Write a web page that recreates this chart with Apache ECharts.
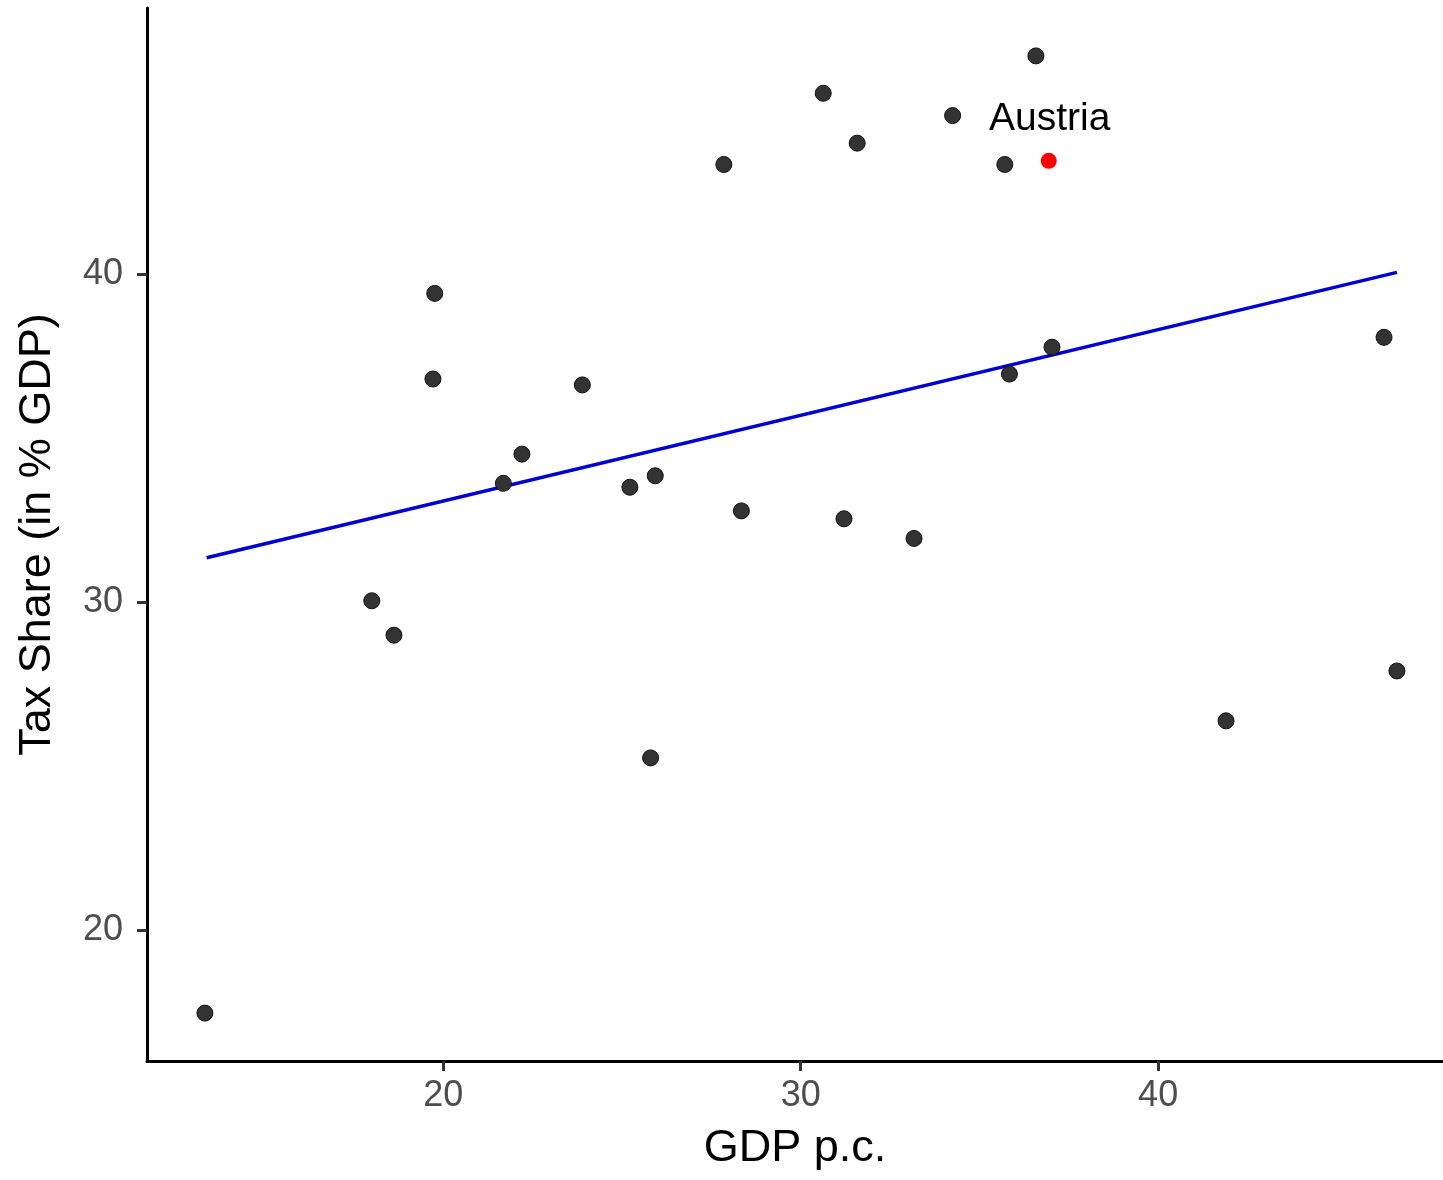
<!DOCTYPE html>
<html>
<head>
<meta charset="utf-8">
<title>Tax share vs GDP p.c.</title>
<script src="https://cdn.jsdelivr.net/npm/echarts@6/dist/echarts.min.js"></script>
<style>
  html, body { margin: 0; padding: 0; background: #ffffff; }
  #chart { width: 1443px; height: 1180px; }
</style>
</head>
<body>
<div id="chart"></div>
<script>
// values
var gdpPc = [13.33, 18.00, 18.62, 19.71, 19.76, 21.68, 22.20, 23.89, 25.22, 25.80, 25.93, 27.85, 28.34,
  30.63, 31.21, 31.58, 33.17, 34.25, 35.71, 35.84, 36.58, 37.03, 41.90, 46.32, 46.68];
var taxShare = [17.47, 30.04, 28.99, 36.80, 39.41, 33.62, 34.51, 36.62, 33.50, 25.25, 33.85, 43.34, 32.78,
  45.51, 32.54, 43.99, 31.94, 44.83, 43.34, 36.95, 46.65, 37.77, 26.38, 38.07, 27.90];

var austriaName = 'Austria';
var austriaGdp = 36.94;
var austriaTax = 43.45;

// fitted line, two ends
var fitX = [13.38, 46.68];
var fitY = [31.35, 40.05];

var xTicks = [20, 30, 40];
var yTicks = [20, 30, 40];

var font = "'Liberation Sans', Arial, sans-serif";

var points = gdpPc.map(function (x, i) { return [x, taxShare[i]]; });
var fitLine = fitX.map(function (x, i) { return [x, fitY[i]]; });

var chart = echarts.init(document.getElementById('chart'), null, { renderer: 'canvas' });

var axisCommon = {
  type: 'value',
  nameLocation: 'middle',
  nameTextStyle: { fontFamily: font, fontSize: 45, color: '#000000' },
  axisLine: { show: true, onZero: false, lineStyle: { color: '#000000', width: 3 } },
  splitLine: { show: false }
};

chart.setOption({
  backgroundColor: '#ffffff',
  animation: false,
  grid: { left: 147, right: 0, top: 8, bottom: 119 },
  xAxis: Object.assign({}, axisCommon, {
    name: 'GDP p.c.',
    nameGap: 65,
    min: 11.71,
    max: 47.97,
    axisTick: { show: true, length: 10, customValues: xTicks, lineStyle: { color: '#333333', width: 3 } },
    axisLabel: { customValues: xTicks, margin: 17, fontFamily: font, fontSize: 36, color: '#4d4d4d' }
  }),
  yAxis: Object.assign({}, axisCommon, {
    name: 'Tax Share (in % GDP)',
    nameGap: 87,
    nameRotate: 90,
    min: 16.01,
    max: 48.11,
    axisTick: { show: true, length: 10, customValues: yTicks, lineStyle: { color: '#333333', width: 3 } },
    axisLabel: { customValues: yTicks, margin: 24, fontFamily: font, fontSize: 36, color: '#4d4d4d' }
  }),
  series: [
    {
      type: 'line',
      data: fitLine,
      showSymbol: false,
      symbol: 'none',
      lineStyle: { color: '#0000d0', width: 3.5 },
      z: 2
    },
    {
      type: 'scatter',
      data: points,
      symbol: 'circle',
      symbolSize: 16,
      itemStyle: { color: '#333333', borderColor: '#111111', borderWidth: 1, opacity: 1 },
      z: 3
    },
    {
      type: 'scatter',
      data: [[austriaGdp, austriaTax]],
      symbol: 'circle',
      symbolSize: 16,
      itemStyle: { color: '#ff0000', opacity: 1 },
      label: {
        show: true,
        formatter: austriaName,
        position: 'inside',
        offset: [1, -42],
        fontFamily: font,
        fontSize: 39,
        color: '#000000'
      },
      z: 4
    }
  ]
});
</script>
</body>
</html>
